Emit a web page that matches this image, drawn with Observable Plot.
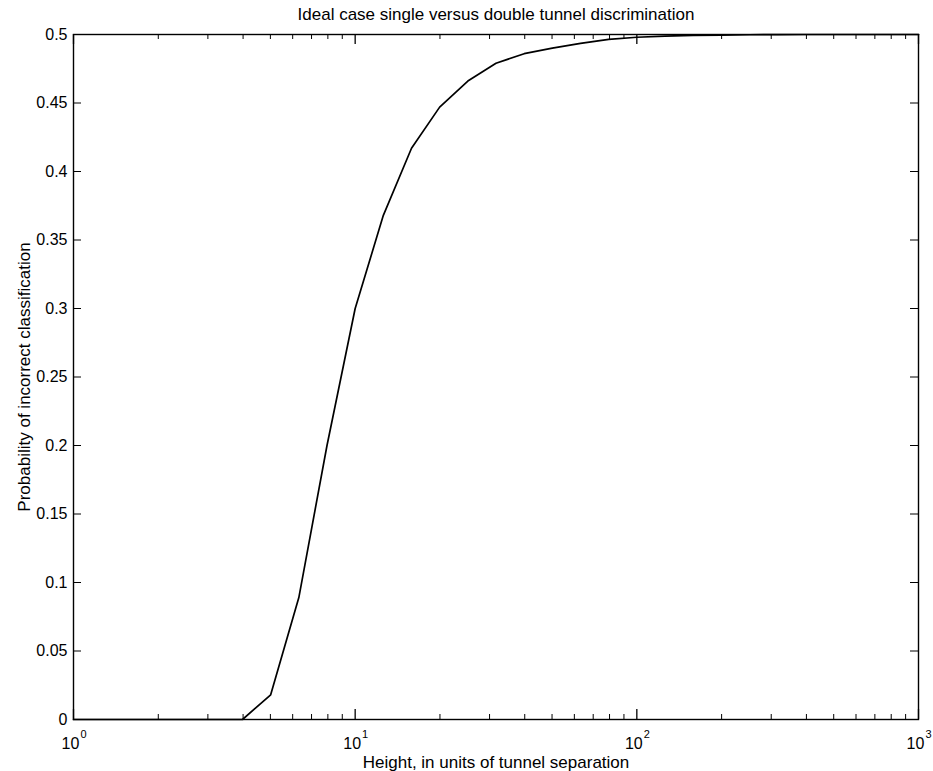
<!DOCTYPE html>
<html>
<head>
<meta charset="utf-8">
<script src="https://cdn.jsdelivr.net/npm/d3@7"></script>
<script src="https://cdn.jsdelivr.net/npm/@observablehq/plot@0.6"></script>
<style>
  html, body { margin: 0; padding: 0; background: #fff; }
  #chart svg { display: block; }
</style>
</head>
<body>
<div id="chart"></div>
<script>
// Data
const heights = [1, 1.259, 1.585, 1.995, 2.512, 3.162, 3.981, 5.012, 6.310, 7.943,
  10, 12.59, 15.85, 19.95, 25.12, 31.62, 39.81, 50.12, 63.10, 79.43,
  100, 125.9, 158.5, 199.5, 251.2, 316.2, 398.1, 501.2, 631.0, 794.3, 1000];
const probError = [0, 0, 0, 0, 0, 0, 0, 0.018, 0.089, 0.200,
  0.300, 0.368, 0.417, 0.447, 0.466, 0.479, 0.486, 0.490, 0.4935, 0.4965,
  0.498, 0.4988, 0.4993, 0.4996, 0.4998, 0.4999, 0.5, 0.5, 0.5, 0.5, 0.5];

const yTicks = [0, 0.05, 0.1, 0.15, 0.2, 0.25, 0.3, 0.35, 0.4, 0.45, 0.5];
const yTickLabels = ["0", "0.05", "0.1", "0.15", "0.2", "0.25", "0.3", "0.35", "0.4", "0.45", "0.5"];
const xMajorTicks = [1, 10, 100, 1000];
const xExponents = ["0", "1", "2", "3"];
const xMinorTicks = [2, 3, 4, 5, 6, 7, 8, 9, 20, 30, 40, 50, 60, 70, 80, 90, 200, 300, 400, 500, 600, 700, 800, 900];

const title = "Ideal case single versus double tunnel discrimination";
const xLabel = "Height, in units of tunnel separation";
const yLabel = "Probability of incorrect classification";

const points = heights.map((h, i) => ({h, p: probError[i]}));
const xMin = 1, xMax = 1000, yMin = 0, yMax = 0.5;
const font = "Liberation Sans, Arial, Helvetica, sans-serif";

const W = 933, H = 771, mL = 73, mR = 15, mT = 34, mB = 52;
const plotW = W - mL - mR, plotH = H - mT - mB;
const yTickLen = 8, xMajorLen = 10, xMinorLen = 5;
const ink = "#000";

const chart = Plot.plot({
  width: W,
  height: H,
  marginLeft: mL,
  marginRight: mR,
  marginTop: mT,
  marginBottom: mB,
  style: {fontFamily: font, background: "#fff", color: ink},
  x: {type: "log", domain: [xMin, xMax], axis: null},
  y: {domain: [yMin, yMax], axis: null},
  marks: [
    // data line
    Plot.line(points, {x: "h", y: "p", stroke: ink, strokeWidth: 1.7}),
    // inward ticks on y (left and right)
    Plot.tickY(yTicks, {y: d => d, insetRight: plotW - yTickLen, stroke: ink, strokeWidth: 1}),
    Plot.tickY(yTicks, {y: d => d, insetLeft: plotW - yTickLen, stroke: ink, strokeWidth: 1}),
    // inward ticks on x (bottom and top), major and minor
    Plot.tickX(xMajorTicks, {x: d => d, insetTop: plotH - xMajorLen, stroke: ink, strokeWidth: 1.3}),
    Plot.tickX(xMajorTicks, {x: d => d, insetBottom: plotH - xMajorLen, stroke: ink, strokeWidth: 1.3}),
    Plot.tickX(xMinorTicks, {x: d => d, insetTop: plotH - xMinorLen, stroke: ink, strokeWidth: 1}),
    Plot.tickX(xMinorTicks, {x: d => d, insetBottom: plotH - xMinorLen, stroke: ink, strokeWidth: 1}),
    Plot.frame({stroke: ink, strokeWidth: 1.4}),
    // y tick labels
    Plot.text(yTicks, {x: xMin, y: d => d, text: (d, i) => yTickLabels[i], textAnchor: "end", dx: -6, fontSize: 16, fill: ink}),
    // x tick labels: "10" with superscript exponent
    Plot.text(xMajorTicks, {x: d => d, y: yMin, text: () => "10", dx: -3, dy: 24, fontSize: 16, fill: ink}),
    Plot.text(xMajorTicks, {x: d => d, y: yMin, text: (d, i) => xExponents[i], dx: 10, dy: 15, fontSize: 11, fill: ink}),
    // title and axis labels
    Plot.text([title], {frameAnchor: "top", textAnchor: "middle", lineAnchor: "middle", dy: -20, fontSize: 17, fill: ink}),
    Plot.text([xLabel], {frameAnchor: "bottom", textAnchor: "middle", lineAnchor: "middle", dy: 43, fontSize: 17, fill: ink}),
    Plot.text([yLabel], {frameAnchor: "left", textAnchor: "middle", lineAnchor: "middle", dx: -49, rotate: -90, fontSize: 17, fill: ink})
  ]
});
document.getElementById("chart").appendChild(chart);
</script>
</body>
</html>
